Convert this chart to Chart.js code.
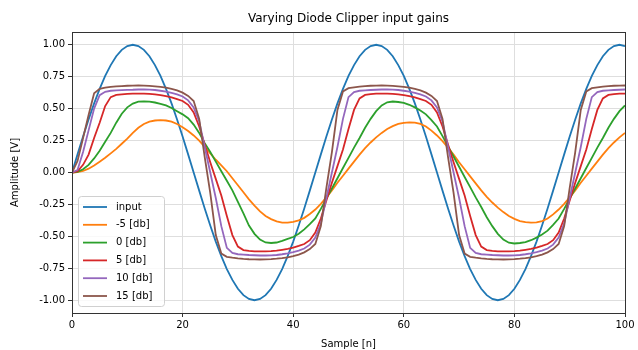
<!DOCTYPE html>
<html>
<head>
<meta charset="utf-8">
<script src="https://cdn.jsdelivr.net/npm/chart.js@4"></script>
<style>
    html, body { margin: 0; padding: 0; background: #ffffff; }
    #clipperChart { display: block; }
</style>
</head>
<body>
<canvas id="clipperChart" width="638" height="350"></canvas>
<script>
// Diode clipper outputs, one value per sample n = 0..100
const input = [
    0, 0.142, 0.282, 0.415, 0.541, 0.655, 0.756, 0.841, 0.910, 0.960, 0.990, 1.000, 0.990, 0.960, 0.910, 0.841, 0.756, 0.655, 0.541, 0.415, 0.282, 0.142,
    0, -0.142, -0.282, -0.415, -0.541, -0.655, -0.756, -0.841, -0.910, -0.960, -0.990, -1.000, -0.990, -0.960, -0.910, -0.841, -0.756, -0.655, -0.541, -0.415, -0.282, -0.142,
    0, 0.142, 0.282, 0.415, 0.541, 0.655, 0.756, 0.841, 0.910, 0.960, 0.990, 1.000, 0.990, 0.960, 0.910, 0.841, 0.756, 0.655, 0.541, 0.415, 0.282, 0.142,
    0, -0.142, -0.282, -0.415, -0.541, -0.655, -0.756, -0.841, -0.910, -0.960, -0.990, -1.000, -0.990, -0.960, -0.910, -0.841, -0.756, -0.655, -0.541, -0.415, -0.282, -0.142,
    0, 0.142, 0.282, 0.415, 0.541, 0.655, 0.756, 0.841, 0.910, 0.960, 0.990, 1.000, 0.990
];
const gainMinus5 = [
    0, 0.003, 0.012, 0.03, 0.055, 0.085, 0.115, 0.15, 0.185, 0.225, 0.265, 0.31, 0.35, 0.38, 0.398, 0.407, 0.41, 0.407, 0.398, 0.38, 0.355, 0.325,
    0.29, 0.25, 0.20, 0.15, 0.10, 0.055, 0.01, -0.045, -0.10, -0.155, -0.21, -0.26, -0.305, -0.34, -0.365, -0.383, -0.393, -0.392, -0.386, -0.375, -0.355, -0.325,
    -0.29, -0.245, -0.195, -0.14, -0.08, -0.025, 0.03, 0.085, 0.14, 0.19, 0.235, 0.275, 0.31, 0.34, 0.363, 0.38, 0.389, 0.393, 0.391, 0.38, 0.36, 0.328,
    0.29, 0.245, 0.195, 0.14, 0.08, 0.025, -0.03, -0.085, -0.14, -0.19, -0.235, -0.275, -0.31, -0.34, -0.363, -0.38, -0.389, -0.393, -0.391, -0.38, -0.36, -0.328,
    -0.29, -0.245, -0.195, -0.14, -0.08, -0.025, 0.03, 0.085, 0.14, 0.19, 0.235, 0.275, 0.31
];
const gain0 = [
    0, 0.005, 0.025, 0.06, 0.11, 0.17, 0.24, 0.31, 0.39, 0.46, 0.51, 0.54, 0.555, 0.557, 0.555, 0.548, 0.538, 0.525, 0.505, 0.48, 0.455, 0.425,
    0.375, 0.31, 0.23, 0.16, 0.085, 0.01, -0.065, -0.14, -0.23, -0.32, -0.415, -0.48, -0.525, -0.548, -0.552, -0.548, -0.535, -0.52, -0.505, -0.48, -0.445, -0.405,
    -0.36, -0.285, -0.205, -0.125, -0.045, 0.035, 0.115, 0.195, 0.27, 0.35, 0.42, 0.48, 0.525, 0.55, 0.556, 0.552, 0.545, 0.53, 0.51, 0.485, 0.455, 0.41,
    0.36, 0.285, 0.205, 0.125, 0.045, -0.035, -0.115, -0.195, -0.27, -0.35, -0.42, -0.48, -0.525, -0.55, -0.556, -0.552, -0.545, -0.53, -0.51, -0.485, -0.455, -0.41,
    -0.36, -0.285, -0.205, -0.125, -0.045, 0.035, 0.115, 0.195, 0.27, 0.35, 0.42, 0.48, 0.525
];
const gain5 = [
    0, 0.01, 0.06, 0.14, 0.27, 0.39, 0.52, 0.59, 0.607, 0.612, 0.615, 0.617, 0.618, 0.618, 0.616, 0.612, 0.605, 0.598, 0.588, 0.575, 0.56, 0.53,
    0.47, 0.36, 0.22, 0.08, -0.05, -0.18, -0.34, -0.49, -0.58, -0.607, -0.614, -0.617, -0.618, -0.618, -0.616, -0.612, -0.605, -0.598, -0.588, -0.575, -0.56, -0.53,
    -0.47, -0.36, -0.22, -0.08, 0.05, 0.18, 0.34, 0.49, 0.58, 0.607, 0.614, 0.617, 0.618, 0.618, 0.616, 0.612, 0.605, 0.598, 0.588, 0.575, 0.56, 0.53,
    0.47, 0.36, 0.22, 0.08, -0.05, -0.18, -0.34, -0.49, -0.58, -0.607, -0.614, -0.617, -0.618, -0.618, -0.616, -0.612, -0.605, -0.598, -0.588, -0.575, -0.56, -0.53,
    -0.47, -0.36, -0.22, -0.08, 0.05, 0.18, 0.34, 0.49, 0.58, 0.607, 0.614, 0.617, 0.618
];
const gain10 = [
    0, 0.02, 0.16, 0.33, 0.50, 0.605, 0.632, 0.64, 0.643, 0.645, 0.647, 0.648, 0.65, 0.65, 0.649, 0.646, 0.64, 0.633, 0.624, 0.612, 0.595, 0.565,
    0.51, 0.40, 0.20, 0.00, -0.20, -0.42, -0.59, -0.63, -0.64, -0.643, -0.646, -0.648, -0.65, -0.65, -0.649, -0.646, -0.64, -0.633, -0.624, -0.612, -0.595, -0.565,
    -0.51, -0.40, -0.20, 0.00, 0.20, 0.42, 0.59, 0.63, 0.64, 0.643, 0.646, 0.648, 0.65, 0.65, 0.649, 0.646, 0.64, 0.633, 0.624, 0.612, 0.595, 0.565,
    0.51, 0.40, 0.20, 0.00, -0.20, -0.42, -0.59, -0.63, -0.64, -0.643, -0.646, -0.648, -0.65, -0.65, -0.649, -0.646, -0.64, -0.633, -0.624, -0.612, -0.595, -0.565,
    -0.51, -0.40, -0.20, 0.00, 0.20, 0.42, 0.59, 0.63, 0.64, 0.643, 0.646, 0.648, 0.65
];
const gain15 = [
    0, 0.09, 0.27, 0.45, 0.62, 0.655, 0.665, 0.67, 0.674, 0.677, 0.679, 0.68, 0.681, 0.68, 0.678, 0.675, 0.67, 0.664, 0.655, 0.643, 0.625, 0.60,
    0.56, 0.42, 0.12, -0.16, -0.49, -0.635, -0.66, -0.667, -0.672, -0.676, -0.679, -0.68, -0.681, -0.68, -0.678, -0.675, -0.67, -0.664, -0.655, -0.643, -0.625, -0.60,
    -0.56, -0.42, -0.12, 0.16, 0.49, 0.635, 0.66, 0.667, 0.672, 0.676, 0.679, 0.68, 0.681, 0.68, 0.678, 0.675, 0.67, 0.664, 0.655, 0.643, 0.625, 0.60,
    0.56, 0.42, 0.12, -0.16, -0.49, -0.635, -0.66, -0.667, -0.672, -0.676, -0.679, -0.68, -0.681, -0.68, -0.678, -0.675, -0.67, -0.664, -0.655, -0.643, -0.625, -0.60,
    -0.56, -0.42, -0.12, 0.16, 0.49, 0.635, 0.66, 0.667, 0.672, 0.676, 0.679, 0.68, 0.681
];

const seriesLabels = ['input', '-5 [db]', '0 [db]', '5 [db]', '10 [db]', '15 [db]'];
const seriesData = [input, gainMinus5, gain0, gain5, gain10, gain15];
const seriesColors = ['#1f77b4', '#ff7f0e', '#2ca02c', '#d62728', '#9467bd', '#8c564b'];
const yTicks = [-1.0, -0.75, -0.5, -0.25, 0, 0.25, 0.5, 0.75, 1.0];
const xTicks = [0, 20, 40, 60, 80, 100];

const FONT = "'DejaVu Sans', sans-serif";
const TEXT_COLOR = '#000000';

// Title, y label, frame and the legend box drawn inside the axes
const decorPlugin = {
    id: 'decor',
    afterDraw(chart) {
        const ctx = chart.ctx;
        const area = chart.chartArea;
        ctx.save();

        // axes frame
        ctx.strokeStyle = '#333333';
        ctx.lineWidth = 1;
        ctx.strokeRect(Math.round(area.left) + 0.5, Math.round(area.top) + 0.5,
            Math.round(area.right - area.left), Math.round(area.bottom - area.top));

        // title
        ctx.fillStyle = TEXT_COLOR;
        ctx.font = '12px ' + FONT;
        ctx.textAlign = 'center';
        ctx.textBaseline = 'middle';
        ctx.fillText('Varying Diode Clipper input gains', (area.left + area.right) / 2, 19);

        // y axis label
        ctx.font = '10px ' + FONT;
        ctx.save();
        ctx.translate(15, (area.top + area.bottom) / 2);
        ctx.rotate(-Math.PI / 2);
        ctx.fillText('Amplitude [V]', 0, 0);
        ctx.restore();

        // legend
        const bx = 78.5, by = 196.5, bw = 86, bh = 110;
        ctx.beginPath();
        ctx.roundRect(bx, by, bw, bh, 3);
        ctx.fillStyle = 'rgba(255,255,255,0.8)';
        ctx.fill();
        ctx.strokeStyle = '#d0d0d0';
        ctx.stroke();

        ctx.textAlign = 'left';
        seriesLabels.forEach((label, i) => {
            const y = 207 + i * 17.8;
            ctx.strokeStyle = seriesColors[i];
            ctx.lineWidth = 1.8;
            ctx.beginPath();
            ctx.moveTo(83, y);
            ctx.lineTo(107, y);
            ctx.stroke();
            ctx.fillStyle = TEXT_COLOR;
            ctx.fillText(label, 116, y);
        });
        ctx.restore();
    }
};

function initializeClipperChart() {
    const ctx = document.getElementById('clipperChart');
    if (!ctx) return;

    const datasets = seriesData.map((values, i) => ({
        label: seriesLabels[i],
        data: values.map((v, n) => ({ x: n, y: v })),
        borderColor: seriesColors[i],
        backgroundColor: seriesColors[i],
        borderWidth: 1.8,
        pointRadius: 0,
        tension: 0,
        fill: false,
        order: seriesData.length - i
    }));

    const config = {
        type: 'line',
        data: { datasets: datasets },
        options: {
            responsive: false,
            animation: false,
            devicePixelRatio: 1,
            layout: {
                padding: { top: 32, right: 13, left: 0, bottom: 0 }
            },
            plugins: {
                legend: { display: false },
                title: { display: false },
                tooltip: { enabled: false }
            },
            scales: {
                x: {
                    type: 'linear',
                    min: 0,
                    max: 100,
                    afterBuildTicks: function(scale) {
                        scale.ticks = xTicks.map(v => ({ value: v }));
                    },
                    afterFit: function(scale) {
                        scale.height = 37;
                    },
                    grid: {
                        color: '#dedede',
                        tickColor: '#333333',
                        tickLength: 4
                    },
                    border: { color: '#333333' },
                    ticks: {
                        color: TEXT_COLOR,
                        font: { family: FONT, size: 10 },
                        padding: 2,
                        maxRotation: 0
                    },
                    title: {
                        display: true,
                        text: 'Sample [n]',
                        color: TEXT_COLOR,
                        font: { family: FONT, size: 10 },
                        padding: { top: 1, bottom: 0 }
                    }
                },
                y: {
                    type: 'linear',
                    min: -1.1,
                    max: 1.1,
                    afterBuildTicks: function(scale) {
                        scale.ticks = yTicks.map(v => ({ value: v }));
                    },
                    afterFit: function(scale) {
                        scale.width = 72;
                    },
                    grid: {
                        color: '#dedede',
                        tickColor: '#333333',
                        tickLength: 4
                    },
                    border: { color: '#333333' },
                    ticks: {
                        color: TEXT_COLOR,
                        font: { family: FONT, size: 10 },
                        padding: 3,
                        callback: function(value) {
                            return value.toFixed(2);
                        }
                    }
                }
            }
        },
        plugins: [decorPlugin]
    };

    new Chart(ctx, config);
}

document.addEventListener('DOMContentLoaded', function() {
    initializeClipperChart();
});
</script>
</body>
</html>
